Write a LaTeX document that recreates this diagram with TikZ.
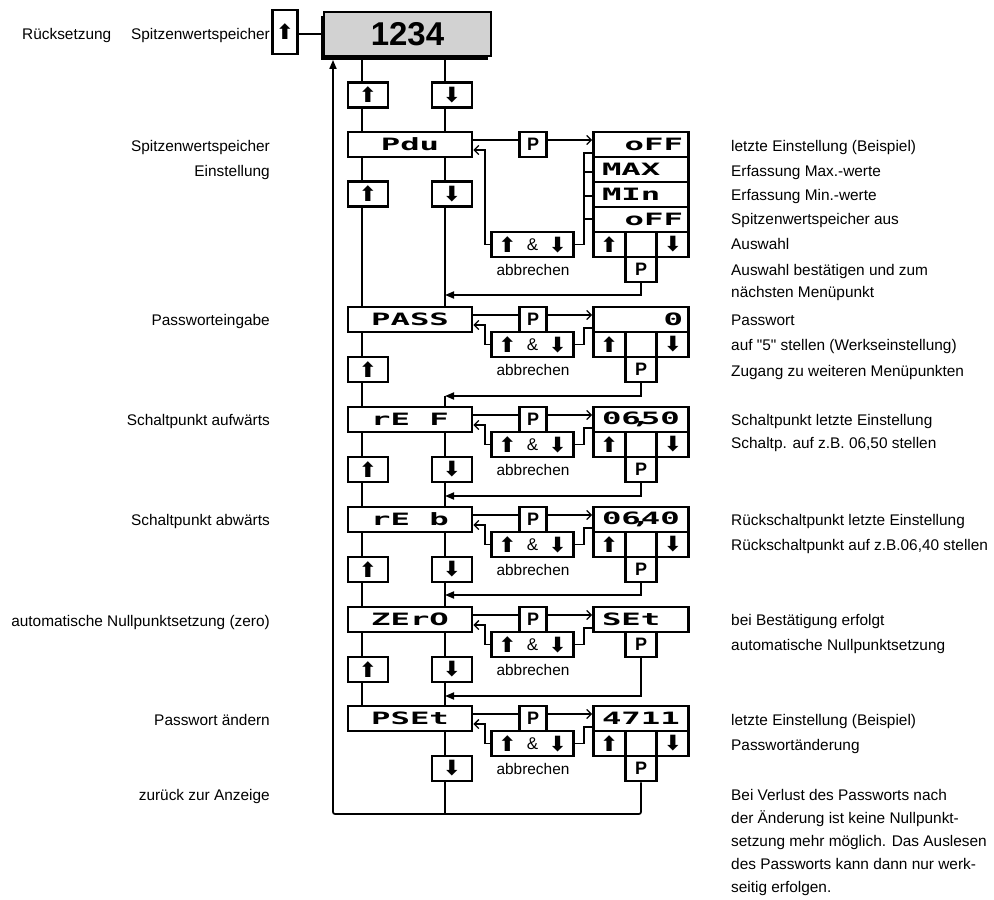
\documentclass[tikz,border=0pt]{standalone}
\usepackage{fontspec}
\usepackage{graphicx}
\setmainfont{Liberation Sans}
\newfontfamily\segfont{DejaVu Sans Mono}
\newfontfamily\symbfont{DejaVu Sans}
\usetikzlibrary{arrows.meta,shadows,calc}
\pgfdeclarelayer{bg}
\pgfsetlayers{bg,main}
\newcommand\segtxt[1]{\scalebox{1.9}[1]{\segfont\bfseries\fontsize{17}{17}\selectfont #1}}
\newcommand\uparr{{\symbfont\bfseries\fontsize{21}{21}\selectfont ⬆}}
\newcommand\dnarr{{\symbfont\bfseries\fontsize{21}{21}\selectfont ⬇}}
\newcommand\ptxt{{\bfseries\fontsize{18}{18}\selectfont P}}
\newcommand\ambtxt{\makebox[68pt]{\uparr\hfill\raisebox{1.5pt}{\fontsize{17}{17}\selectfont\&}\hfill\dnarr}}
\tikzset{
  conn/.style={line width=1.7pt},
  openarr/.style={-{Straight Barb[length=4.5pt,width=9pt,line width=1.3pt]}},
  fillarr/.style={-{Triangle[length=9pt,width=7pt]}},
  box/.style={draw, line width=2.8pt, fill=white, inner sep=0pt, minimum height=25pt},
  dispbox/.style={box, minimum width=124pt},
  upbox/.style={box, minimum width=40pt},
  dnbox/.style={box, minimum width=40pt},
  pbox/.style={box, minimum width=27pt},
  ambox/.style={box, minimum width=82pt},
  valbox/.style={box, minimum width=95pt},
  cell/.style={box, minimum width=31.667pt},
  lbl/.style={inner sep=0pt, text height=11pt, text depth=3pt, font=\fontsize{15.4}{18}\selectfont},
  lblr/.style={lbl, anchor=west},
  lbll/.style={lbl, anchor=east}
}
\newcommand\arrowrow[2]{%
  \node[cell] (#1cl) at (609.167,{#2+12.5}) {\uparr};
  \node[cell] (#1cm) at (641,{#2+12.5}) {};
  \node[cell] (#1cr) at (672.833,{#2+12.5}) {\dnarr};
  \node[cell] (#1pb) at (641,{#2+37.5}) {\ptxt};
}
\newcommand\menublock[4]{%
  \node[dispbox] (#1) at (410,{#2+12.5}) {\segtxt{#4}};
  \node[pbox] (#1p) at (533,{#2+12.5}) {\ptxt};
  \node[ambox] (#1a) at (532.5,{#3+12.5}) {\ambtxt};
  \node[lbl] (#1ab) at (533,{#3+39}) {abbrechen};
  \coordinate (#1ya) at (0,{#2+8});
  \coordinate (#1yb) at (0,{#2+18});
  \coordinate (#1yc) at (0,{#2+21});
  \draw[conn] (#1.east |- #1ya) -- (#1p.west |- #1ya);
  \draw[conn,openarr] (#1p.east |- #1ya) -- (#1v.west |- #1ya);
  \draw[conn,openarr] (#1a.west) -- ++(-5,0) |- (#1.east |- #1yb);
  \draw[conn] (#1a.east) -- ++(9,0) |- (#1v.west |- #1yc);
}
\begin{document}
\begin{tikzpicture}[x=1pt,y=-1pt]
\useasboundingbox (0,0) rectangle (994,900);
\coordinate (cL) at (362,0);
\coordinate (cR) at (445,0);
\coordinate (cF) at (333,0);
\coordinate (bot) at (0,814);
\coordinate (y34) at (0,34);

% top display
\node[box, minimum width=167pt, minimum height=44pt, fill=gray!35,
  drop shadow={shadow xshift=-3.5pt, shadow yshift=-3.5pt, fill=black, opacity=1}]
  (disp) at (407.5,34) {\fontsize{33}{33}\selectfont\bfseries 1234};
\node[box, minimum width=25pt, minimum height=44pt] (rst) at (285,32) {\uparr};
\draw[conn] (rst.east |- y34) -- (disp.west |- y34);
\node[lbll] (l0b) at (270,35) {Spitzenwertspeicher};
\node[lbl, anchor=west] (l0a) at (22,35) {Rücksetzung};

\node[upbox] (u0) at (368,95) {\uparr};
\node[dnbox] (d0) at (452,95) {\dnarr};

% Pdu
\node[valbox] (pduv) at (641,144.5) {\makebox[84pt][r]{\segtxt{oFF}}};
\node[valbox] (pduv2) at (641,169.5) {\makebox[78pt][l]{\segtxt{MAX}}};
\node[valbox] (pduv3) at (641,194.5) {\makebox[78pt][l]{\segtxt{MIn}}};
\node[valbox] (pduv4) at (641,219.5) {\makebox[84pt][r]{\segtxt{oFF}}};
\arrowrow{pdu}{232}
\menublock{pdu}{132}{232}{Pdu}
\coordinate (tk2) at (583.7,172);
\coordinate (tk3) at (583.7,196);
\coordinate (tk4) at (583.7,219);
\draw[conn] (tk2) -- (tk2 -| pduv2.west);
\draw[conn] (tk3) -- (tk3 -| pduv3.west);
\draw[conn] (tk4) -- (tk4 -| pduv4.west);
\node[upbox] (u1) at (368,194) {\uparr};
\node[dnbox] (d1) at (452,194) {\dnarr};
\coordinate (r1) at (445,295);
\draw[conn,fillarr] (pdupb.south) |- (r1);

% PASS
\node[valbox] (passv) at (641,319.5) {\makebox[84pt][r]{\segtxt{0}}};
\arrowrow{pass}{332}
\menublock{pass}{307}{332}{PASS}
\node[upbox] (u2) at (368,369.5) {\uparr};
\coordinate (r2) at (445,396);
\draw[conn,fillarr] (passpb.south) |- (r2);

% rE F
\node[valbox] (refv) at (641,419.5) {\makebox[78pt][l]{\segtxt{06\makebox[0pt]{,}50}}};
\arrowrow{ref}{432}
\menublock{ref}{407}{432}{rE F}
\node[upbox] (u3) at (368,469.5) {\uparr};
\node[dnbox] (d3) at (452,469.5) {\dnarr};
\coordinate (r3) at (445,496);
\draw[conn,fillarr] (refpb.south) |- (r3);

% rE b
\node[valbox] (rebv) at (641,519.5) {\makebox[78pt][l]{\segtxt{06\makebox[0pt]{,}40}}};
\arrowrow{reb}{532}
\menublock{reb}{507}{532}{rE b}
\node[upbox] (u4) at (368,569.5) {\uparr};
\node[dnbox] (d4) at (452,569.5) {\dnarr};
\coordinate (r4) at (445,595);
\draw[conn,fillarr] (rebpb.south) |- (r4);

% ZErO
\node[valbox] (zerov) at (641,619.5) {\makebox[78pt][l]{\segtxt{SEt}}};
\node[cell] (zeropb) at (641,644.5) {\ptxt};
\menublock{zero}{607}{632}{ZErO}
\node[upbox] (u5) at (368,669.5) {\uparr};
\node[dnbox] (d5) at (452,669.5) {\dnarr};
\coordinate (r5) at (445,696);
\draw[conn,fillarr] (zeropb.south) |- (r5);

% PSEt
\node[valbox] (psetv) at (641,718.5) {\makebox[78pt][l]{\segtxt{4711}}};
\arrowrow{pset}{731}
\menublock{pset}{706}{731}{PSEt}
\node[dnbox] (d6) at (452,768.5) {\dnarr};
\draw[conn, rounded corners=2pt, fillarr] (psetpb.south) |- (cF |- bot) -- ($(disp.south -| cF)+(0,2.5)$);

% vertical lines behind boxes
\begin{pgfonlayer}{bg}
\draw[conn] (disp.south -| cL) -- (pset.north -| cL);
\draw[conn] (disp.south -| cR) -- (pass.north -| cR);
\draw[conn] (r2) -- (cR |- bot);
\end{pgfonlayer}

% left labels
\node[lbll] (la1) at (270,147) {Spitzenwertspeicher};
\node[lbll] (la2) at (270,172) {Einstellung};
\node[lbll] (la3) at (270,321) {Passworteingabe};
\node[lbll] (la4) at (270,421) {Schaltpunkt aufwärts};
\node[lbll] (la5) at (270,521) {Schaltpunkt abwärts};
\node[lbll] (la6) at (270,622) {automatische Nullpunktsetzung (zero)};
\node[lbll] (la7) at (270,721) {Passwort ändern};
\node[lbll] (la8) at (270,796) {zurück zur Anzeige};

% right labels
\node[lblr] (ra1) at (731,147) {letzte Einstellung (Beispiel)};
\node[lblr] (ra2) at (731,172) {Erfassung Max.-werte};
\node[lblr] (ra3) at (731,196) {Erfassung Min.-werte};
\node[lblr] (ra4) at (731,220) {Spitzenwertspeicher aus};
\node[lblr] (ra5) at (731,245) {Auswahl};
\node[lblr] (ra6) at (731,271) {Auswahl bestätigen und zum};
\node[lblr] (ra7) at (731,293) {nächsten Menüpunkt};
\node[lblr] (ra8) at (731,321) {Passwort};
\node[lblr] (ra9) at (731,346) {auf \textquotedbl 5\textquotedbl\ stellen (Werkseinstellung)};
\node[lblr] (ra10) at (731,372) {Zugang zu weiteren Menüpunkten};
\node[lblr] (ra11) at (731,421) {Schaltpunkt letzte Einstellung};
\node[lblr] (ra12) at (731,444) {Schaltp. auf z.B. 06,50 stellen};
\node[lblr] (ra13) at (731,521) {Rückschaltpunkt letzte Einstellung};
\node[lblr] (ra14) at (731,546) {Rückschaltpunkt auf z.B.06,40 stellen};
\node[lblr] (ra15) at (731,621) {bei Bestätigung erfolgt};
\node[lblr] (ra16) at (731,646) {automatische Nullpunktsetzung};
\node[lblr] (ra17) at (731,721) {letzte Einstellung (Beispiel)};
\node[lblr] (ra18) at (731,746) {Passwortänderung};
\node[lblr] (rb1) at (731,796) {Bei Verlust des Passworts nach};
\node[lblr] (rb2) at (731,819) {der Änderung ist keine Nullpunkt-};
\node[lblr] (rb3) at (731,842) {setzung mehr möglich. Das Auslesen};
\node[lblr] (rb4) at (731,865) {des Passworts kann dann nur werk-};
\node[lblr] (rb5) at (731,888) {seitig erfolgen.};
\end{tikzpicture}
\end{document}
